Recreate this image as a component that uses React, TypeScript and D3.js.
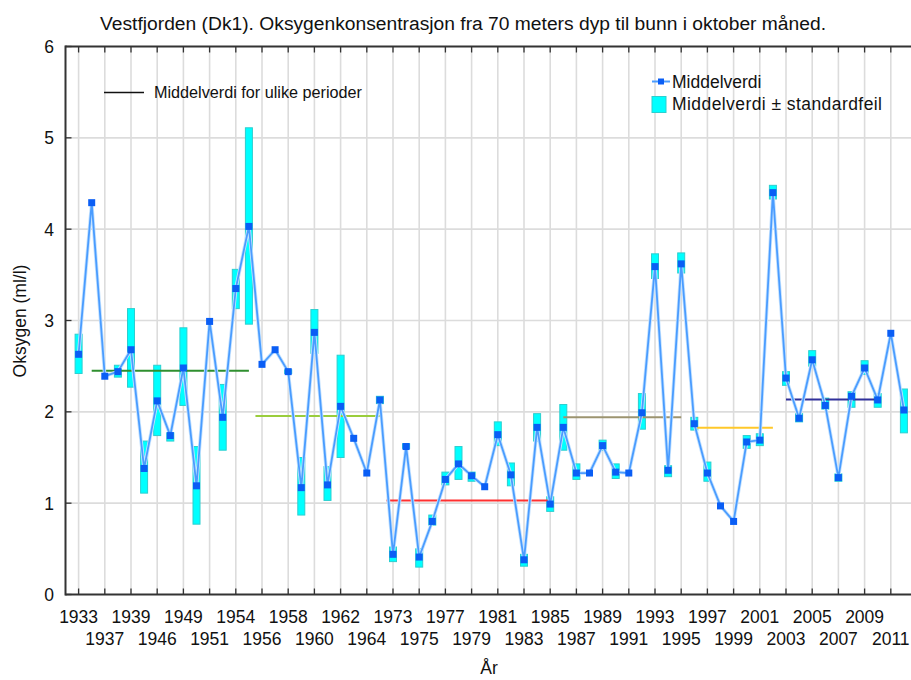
import * as d3 from "d3";

// categories along the x axis (only every other one is labelled)
const years = [
  "1933", "1935", "1937", "1938", "1939", "1940", "1946", "1947", "1949", "1950",
  "1951", "1952", "1954", "1955", "1956", "1957", "1958", "1959", "1960", "1961",
  "1962", "1963", "1964", "1965", "1973", "1974", "1975", "1976", "1977", "1978",
  "1979", "1980", "1981", "1982", "1983", "1984", "1985", "1986", "1987", "1988",
  "1989", "1990", "1991", "1992", "1993", "1994", "1995", "1996", "1997", "1998",
  "1999", "2000", "2001", "2002", "2003", "2004", "2005", "2006", "2007", "2008",
  "2009", "2010", "2011", "2012",
];

// middelverdi (ml/l)
const means = [
  2.63, 4.29, 2.39, 2.44, 2.68, 1.38, 2.12, 1.74, 2.48, 1.19,
  2.99, 1.94, 3.35, 4.03, 2.52, 2.68, 2.44, 1.17, 2.87, 1.2,
  2.06, 1.71, 1.33, 2.13, 0.44, 1.62, 0.41, 0.8, 1.26, 1.43,
  1.3, 1.18, 1.75, 1.31, 0.38, 1.83, 0.99, 1.83, 1.33, 1.33,
  1.63, 1.34, 1.33, 1.99, 3.59, 1.36, 3.62, 1.87, 1.33, 0.97,
  0.8, 1.67, 1.69, 4.4, 2.37, 1.93, 2.57, 2.07, 1.28, 2.17,
  2.48, 2.13, 2.86, 2.02,
];

// middelverdi - standardfeil (null = no box)
const lows = [
  2.42, null, null, 2.38, 2.27, 1.11, 1.74, 1.68, 2.07, 0.77,
  null, 1.58, 3.13, 2.96, null, null, 2.42, 0.87, 2.64, 1.03,
  1.5, null, null, 2.09, 0.36, 1.6, 0.3, 0.76, 1.2, 1.26,
  1.24, null, 1.63, 1.19, 0.31, 1.68, 0.91, 1.58, 1.26, null,
  1.58, 1.27, null, 1.81, 3.46, 1.29, 3.52, 1.8, 1.24, null,
  null, 1.6, 1.63, 4.33, 2.29, 1.89, 2.5, 2.03, 1.24, 2.05,
  2.41, 2.05, null, 1.77,
];

// middelverdi + standardfeil
const highs = [
  2.85, null, null, 2.51, 3.13, 1.68, 2.51, 1.77, 2.92, 1.62,
  null, 2.3, 3.56, 5.11, null, null, 2.46, 1.5, 3.12, 1.4,
  2.62, null, null, 2.17, 0.52, 1.65, 0.5, 0.87, 1.34, 1.62,
  1.34, null, 1.89, 1.44, 0.44, 1.98, 1.07, 2.08, 1.43, null,
  1.69, 1.43, null, 2.2, 3.73, 1.41, 3.74, 1.94, 1.45, null,
  null, 1.74, 1.76, 4.48, 2.44, 1.98, 2.67, 2.15, 1.32, 2.22,
  2.56, 2.2, null, 2.25,
];

// period means (positions in category units)
const periodFrom = [1, 13.5, 23.5, 37, 47, 54];
const periodTo = [13, 23, 36, 46, 53, 61];
const periodMean = [2.45, 1.955, 1.03, 1.94, 1.825, 2.135];
const periodColors = ["#2f8f2f", "#9acd3c", "#ff3030", "#9c9470", "#ffc82a", "#30309a"];

const yTicks = [0, 1, 2, 3, 4, 5, 6];

const font = "'Liberation Sans', Arial, sans-serif";

export default function App() {
  const width = 911;
  const height = 680;
  const left = 65.5;
  const top = 46.5;
  const bottom = 594.5;

  const x = d3.scaleLinear().domain([-1, 64]).range([left, 917]);
  const y = d3.scaleLinear().domain([0, 6]).range([bottom, top]);

  const line = d3
    .line<number>()
    .x((_, i) => x(i))
    .y((d) => y(d));

  const gridIdx = years.map((_, i) => i).filter((i) => i % 2 === 0);

  return (
    <svg
      width={width}
      height={height}
      style={{ position: "absolute", left: 0, top: 0, background: "#fff" }}
      fontFamily={font}
    >
      <text
        x={100}
        y={30}
        fontSize={18}
        fill="#111"
        textLength={726}
        lengthAdjust="spacingAndGlyphs"
      >
        Vestfjorden (Dk1). Oksygenkonsentrasjon fra 70 meters dyp til bunn i oktober måned.
      </text>

      {/* grid */}
      <g stroke="#dcdcdc" strokeWidth={1.6}>
        {gridIdx.map((i) => (
          <line key={i} x1={x(i)} x2={x(i)} y1={top} y2={bottom} />
        ))}
        {yTicks.slice(1, -1).map((t) => (
          <line key={t} x1={left} x2={width} y1={y(t)} y2={y(t)} />
        ))}
      </g>

      {/* error boxes */}
      <g fill="#00ffff" stroke="#2ccfcf" strokeWidth={1}>
        {means.map((_, i) => {
          const lo = lows[i];
          const hi = highs[i];
          if (lo == null || hi == null) return null;
          return (
            <rect key={i} x={x(i) - 3.5} width={7} y={y(hi)} height={y(lo) - y(hi)} />
          );
        })}
      </g>

      {/* period means */}
      {periodMean.map((m, k) => (
        <line
          key={k}
          x1={x(periodFrom[k])}
          x2={x(periodTo[k])}
          y1={y(m)}
          y2={y(m)}
          stroke={periodColors[k]}
          strokeWidth={2}
        />
      ))}

      {/* mean line */}
      <path d={line(means)!} fill="none" stroke="#c4e2ff" strokeWidth={3.5} strokeLinejoin="round" />
      <path d={line(means)!} fill="none" stroke="#4a9cff" strokeWidth={1.8} strokeLinejoin="round" />
      <g fill="#0a5ef5">
        {means.map((d, i) => (
          <rect key={i} x={x(i) - 3.5} y={y(d) - 3.5} width={7} height={7} />
        ))}
      </g>

      {/* frame + ticks */}
      <g stroke="#333" strokeWidth={2}>
        <line x1={left} x2={width} y1={top} y2={top} />
        <line x1={left} x2={width} y1={bottom} y2={bottom} />
        <line x1={left} x2={left} y1={top - 1} y2={bottom + 1} />
      </g>
      <g stroke="#333" strokeWidth={1.3}>
        {gridIdx.map((i) => (
          <g key={i}>
            <line x1={x(i)} x2={x(i)} y1={top} y2={top + 6} />
            <line x1={x(i)} x2={x(i)} y1={bottom} y2={bottom - 6} />
          </g>
        ))}
        {yTicks.map((t) => (
          <line key={t} x1={left} x2={left + 6} y1={y(t)} y2={y(t)} />
        ))}
      </g>

      {/* y tick labels */}
      <g fontSize={17.5} fill="#111" textAnchor="end">
        {yTicks.map((t) => (
          <text key={t} x={54} y={y(t) + 6.5}>
            {t}
          </text>
        ))}
      </g>

      {/* x tick labels, alternating rows */}
      <g fontSize={17.5} fill="#111" textAnchor="middle">
        {gridIdx.map((i, g) => (
          <text key={i} x={x(i)} y={g % 2 === 0 ? 623 : 645}>
            {years[i]}
          </text>
        ))}
      </g>

      <text
        transform={`translate(26,321) rotate(-90)`}
        textAnchor="middle"
        fontSize={17.5}
        fill="#111"
      >
        Oksygen (ml/l)
      </text>
      <text x={489} y={674} textAnchor="middle" fontSize={17.5} fill="#111">
        År
      </text>

      {/* legends */}
      <line x1={104} x2={144} y1={92.5} y2={92.5} stroke="#111" strokeWidth={1.5} />
      <text x={154} y={98} fontSize={16} fill="#111" textLength={208} lengthAdjust="spacingAndGlyphs">
        Middelverdi for ulike perioder
      </text>

      <line x1={652} x2={670} y1={81.5} y2={81.5} stroke="#4a9cff" strokeWidth={2} />
      <rect x={658} y={78.5} width={6} height={6} fill="#0a5ef5" />
      <text x={672} y={87.5} fontSize={17.5} fill="#111">
        Middelverdi
      </text>
      <rect x={652} y={96.5} width={14} height={16} fill="#00ffff" stroke="#2ccfcf" />
      <text x={672} y={110} fontSize={17.5} fill="#111" textLength={210} lengthAdjust="spacing">
        Middelverdi ± standardfeil
      </text>
    </svg>
  );
}
